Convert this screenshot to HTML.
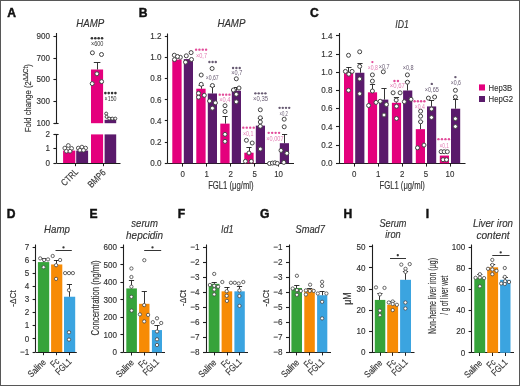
<!DOCTYPE html>
<html><head><meta charset="utf-8"><style>
html,body{margin:0;padding:0;background:#fff;}
body{width:520px;height:386px;overflow:hidden;}
svg{display:block;filter:blur(0.3px);font-family:"Liberation Sans",sans-serif;}
</style></head><body>
<svg width="520" height="386" viewBox="0 0 520 386">
<rect x="0" y="0" width="520" height="386" fill="#fff"/>
<text x="7.2" y="16.9" font-size="12.1" font-weight="bold" fill="#111" stroke="#111" stroke-width="0.45">A</text>
<text x="90.3" y="27.4" font-size="10.5" text-anchor="middle" fill="#333333" stroke="#333333" stroke-width="0.15" font-style="italic" textLength="28.0" lengthAdjust="spacingAndGlyphs">HAMP</text>
<line x1="56.5" y1="33.0" x2="56.5" y2="123.2" stroke="#1e1e1e" stroke-width="1.1"/>
<line x1="53.4" y1="36.5" x2="56.4" y2="36.5" stroke="#1e1e1e" stroke-width="1.1"/>
<text x="50.0" y="38.900000000000006" font-size="9.0" text-anchor="end" fill="#333333" stroke="#333333" stroke-width="0.15" textLength="13.51" lengthAdjust="spacingAndGlyphs">900</text>
<line x1="53.4" y1="58.5" x2="56.4" y2="58.5" stroke="#1e1e1e" stroke-width="1.1"/>
<text x="50.0" y="60.7" font-size="9.0" text-anchor="end" fill="#333333" stroke="#333333" stroke-width="0.15" textLength="13.51" lengthAdjust="spacingAndGlyphs">700</text>
<line x1="53.4" y1="79.5" x2="56.4" y2="79.5" stroke="#1e1e1e" stroke-width="1.1"/>
<text x="50.0" y="82.4" font-size="9.0" text-anchor="end" fill="#333333" stroke="#333333" stroke-width="0.15" textLength="13.51" lengthAdjust="spacingAndGlyphs">500</text>
<line x1="53.4" y1="101.5" x2="56.4" y2="101.5" stroke="#1e1e1e" stroke-width="1.1"/>
<text x="50.0" y="104.10000000000001" font-size="9.0" text-anchor="end" fill="#333333" stroke="#333333" stroke-width="0.15" textLength="13.51" lengthAdjust="spacingAndGlyphs">300</text>
<line x1="53.4" y1="123.5" x2="56.4" y2="123.5" stroke="#1e1e1e" stroke-width="1.1"/>
<text x="50.0" y="125.9" font-size="9.0" text-anchor="end" fill="#333333" stroke="#333333" stroke-width="0.15" textLength="13.51" lengthAdjust="spacingAndGlyphs">100</text>
<line x1="54" y1="123.5" x2="58.6" y2="123.5" stroke="#1e1e1e" stroke-width="1.1"/>
<line x1="56.5" y1="134.4" x2="56.5" y2="163.2" stroke="#1e1e1e" stroke-width="1.1"/>
<line x1="53.4" y1="134.5" x2="56.4" y2="134.5" stroke="#1e1e1e" stroke-width="1.1"/>
<text x="50.0" y="137.2" font-size="9.0" text-anchor="end" fill="#333333" stroke="#333333" stroke-width="0.15" textLength="4.5" lengthAdjust="spacingAndGlyphs">2</text>
<line x1="53.4" y1="148.5" x2="56.4" y2="148.5" stroke="#1e1e1e" stroke-width="1.1"/>
<text x="50.0" y="151.39999999999998" font-size="9.0" text-anchor="end" fill="#333333" stroke="#333333" stroke-width="0.15" textLength="4.5" lengthAdjust="spacingAndGlyphs">1</text>
<line x1="53.4" y1="163.5" x2="56.4" y2="163.5" stroke="#1e1e1e" stroke-width="1.1"/>
<text x="50.0" y="165.7" font-size="9.0" text-anchor="end" fill="#333333" stroke="#333333" stroke-width="0.15" textLength="4.5" lengthAdjust="spacingAndGlyphs">0</text>
<line x1="54.3" y1="134.5" x2="58.6" y2="134.5" stroke="#1e1e1e" stroke-width="1.1"/>
<rect x="63.1" y="150.6" width="12.20" height="12.40" fill="#e4007d"/>
<rect x="76.2" y="150.6" width="11.90" height="12.40" fill="#5a1a6b"/>
<rect x="91.0" y="134.4" width="12.10" height="28.60" fill="#e4007d"/>
<rect x="104.6" y="134.4" width="11.60" height="28.60" fill="#5a1a6b"/>
<rect x="91.0" y="69.5" width="12.10" height="53.70" fill="#e4007d"/>
<rect x="104.6" y="119.8" width="11.60" height="3.40" fill="#5a1a6b"/>
<line x1="97.5" y1="62.8" x2="97.5" y2="69.5" stroke="#1e1e1e" stroke-width="0.9"/>
<line x1="93.8" y1="62.5" x2="100.39999999999999" y2="62.5" stroke="#1e1e1e" stroke-width="0.9"/>
<line x1="110.5" y1="117.0" x2="110.5" y2="119.8" stroke="#1e1e1e" stroke-width="0.9"/>
<line x1="107.9" y1="117.5" x2="112.9" y2="117.5" stroke="#1e1e1e" stroke-width="0.9"/>
<circle cx="92.4" cy="52.8" r="2.0" fill="#fff" stroke="#444444" stroke-width="1.0"/>
<circle cx="101.5" cy="54.5" r="2.0" fill="#fff" stroke="#444444" stroke-width="1.0"/>
<circle cx="96.9" cy="73.8" r="2.0" fill="#fff" stroke="#444444" stroke-width="1.0"/>
<circle cx="92.2" cy="83.6" r="2.0" fill="#fff" stroke="#444444" stroke-width="1.0"/>
<circle cx="101.6" cy="81.6" r="2.0" fill="#fff" stroke="#444444" stroke-width="1.0"/>
<circle cx="106.2" cy="113.6" r="1.5" fill="#fff" stroke="#444444" stroke-width="1.0"/>
<circle cx="106.6" cy="116.8" r="1.5" fill="#fff" stroke="#444444" stroke-width="1.0"/>
<circle cx="109.2" cy="118.6" r="1.5" fill="#fff" stroke="#444444" stroke-width="1.0"/>
<circle cx="112.3" cy="118.6" r="1.5" fill="#fff" stroke="#444444" stroke-width="1.0"/>
<circle cx="115.3" cy="118.6" r="1.5" fill="#fff" stroke="#444444" stroke-width="1.0"/>
<circle cx="68.3" cy="145.5" r="1.9" fill="#fff" stroke="#444444" stroke-width="0.9"/>
<circle cx="64.8" cy="148.1" r="1.9" fill="#fff" stroke="#444444" stroke-width="0.9"/>
<circle cx="71.6" cy="148.4" r="1.9" fill="#fff" stroke="#444444" stroke-width="0.9"/>
<circle cx="66.4" cy="151.2" r="1.9" fill="#fff" stroke="#444444" stroke-width="0.9"/>
<circle cx="70.0" cy="151.2" r="1.9" fill="#fff" stroke="#444444" stroke-width="0.9"/>
<circle cx="78.3" cy="148.1" r="1.9" fill="#fff" stroke="#444444" stroke-width="0.9"/>
<circle cx="81.9" cy="147.1" r="1.9" fill="#fff" stroke="#444444" stroke-width="0.9"/>
<circle cx="85.6" cy="148.1" r="1.9" fill="#fff" stroke="#444444" stroke-width="0.9"/>
<circle cx="79.9" cy="150.2" r="1.9" fill="#fff" stroke="#444444" stroke-width="0.9"/>
<circle cx="83.5" cy="150.2" r="1.9" fill="#fff" stroke="#444444" stroke-width="0.9"/>
<line x1="56.4" y1="163.5" x2="120.5" y2="163.5" stroke="#1e1e1e" stroke-width="1.1"/>
<line x1="75.5" y1="163.2" x2="75.5" y2="166.2" stroke="#1e1e1e" stroke-width="1.0"/>
<line x1="103.5" y1="163.2" x2="103.5" y2="166.2" stroke="#1e1e1e" stroke-width="1.0"/>
<circle cx="91.94" cy="38.30" r="1.3" fill="#333333"/>
<circle cx="95.31" cy="38.30" r="1.3" fill="#333333"/>
<circle cx="98.69" cy="38.30" r="1.3" fill="#333333"/>
<circle cx="102.06" cy="38.30" r="1.3" fill="#333333"/>
<text x="97.2" y="46.3" font-size="6.4" text-anchor="middle" fill="#333333" textLength="12.6" lengthAdjust="spacingAndGlyphs">×600</text>
<circle cx="105.38" cy="93.10" r="1.3" fill="#333333"/>
<circle cx="108.72" cy="93.10" r="1.3" fill="#333333"/>
<circle cx="112.08" cy="93.10" r="1.3" fill="#333333"/>
<circle cx="115.42" cy="93.10" r="1.3" fill="#333333"/>
<text x="110.6" y="100.9" font-size="6.4" text-anchor="middle" fill="#333333" textLength="12.0" lengthAdjust="spacingAndGlyphs">×150</text>
<text x="78.8" y="172.5" font-size="9.5" text-anchor="end" fill="#333333" stroke="#333333" stroke-width="0.15" textLength="19.85" lengthAdjust="spacingAndGlyphs" transform="rotate(-45 78.8 172.5)">CTRL</text>
<text x="106.4" y="173.2" font-size="9.5" text-anchor="end" fill="#333333" stroke="#333333" stroke-width="0.15" textLength="21.21" lengthAdjust="spacingAndGlyphs" transform="rotate(-45 106.4 173.2)">BMP6</text>
<text transform="translate(30.8 98.3) rotate(-90)" font-size="9" text-anchor="middle" fill="#333" stroke="#333" stroke-width="0.15" textLength="68" lengthAdjust="spacingAndGlyphs">Fold change (2<tspan font-size="7.2" dy="-2.6">ΔΔCt</tspan><tspan dy="2.6">)</tspan></text>
<text x="138.8" y="16.8" font-size="12.1" font-weight="bold" fill="#111" stroke="#111" stroke-width="0.45">B</text>
<text x="231.4" y="27.4" font-size="10.5" text-anchor="middle" fill="#333333" stroke="#333333" stroke-width="0.15" font-style="italic" textLength="28.0" lengthAdjust="spacingAndGlyphs">HAMP</text>
<line x1="167.5" y1="33.5" x2="167.5" y2="163.3" stroke="#1e1e1e" stroke-width="1.1"/>
<line x1="164.8" y1="36.5" x2="167.8" y2="36.5" stroke="#1e1e1e" stroke-width="1.1"/>
<text x="161.4" y="39.04000000000002" font-size="9.0" text-anchor="end" fill="#333333" stroke="#333333" stroke-width="0.15" textLength="11.26" lengthAdjust="spacingAndGlyphs">1.2</text>
<line x1="164.8" y1="57.5" x2="167.8" y2="57.5" stroke="#1e1e1e" stroke-width="1.1"/>
<text x="161.4" y="60.20000000000002" font-size="9.0" text-anchor="end" fill="#333333" stroke="#333333" stroke-width="0.15" textLength="11.26" lengthAdjust="spacingAndGlyphs">1.0</text>
<line x1="164.8" y1="78.5" x2="167.8" y2="78.5" stroke="#1e1e1e" stroke-width="1.1"/>
<text x="161.4" y="81.36000000000001" font-size="9.0" text-anchor="end" fill="#333333" stroke="#333333" stroke-width="0.15" textLength="11.26" lengthAdjust="spacingAndGlyphs">0.8</text>
<line x1="164.8" y1="99.5" x2="167.8" y2="99.5" stroke="#1e1e1e" stroke-width="1.1"/>
<text x="161.4" y="102.52000000000002" font-size="9.0" text-anchor="end" fill="#333333" stroke="#333333" stroke-width="0.15" textLength="11.26" lengthAdjust="spacingAndGlyphs">0.6</text>
<line x1="164.8" y1="120.5" x2="167.8" y2="120.5" stroke="#1e1e1e" stroke-width="1.1"/>
<text x="161.4" y="123.68000000000002" font-size="9.0" text-anchor="end" fill="#333333" stroke="#333333" stroke-width="0.15" textLength="11.26" lengthAdjust="spacingAndGlyphs">0.4</text>
<line x1="164.8" y1="142.5" x2="167.8" y2="142.5" stroke="#1e1e1e" stroke-width="1.1"/>
<text x="161.4" y="144.84" font-size="9.0" text-anchor="end" fill="#333333" stroke="#333333" stroke-width="0.15" textLength="11.26" lengthAdjust="spacingAndGlyphs">0.2</text>
<line x1="164.8" y1="163.5" x2="167.8" y2="163.5" stroke="#1e1e1e" stroke-width="1.1"/>
<text x="161.4" y="166.0" font-size="9.0" text-anchor="end" fill="#333333" stroke="#333333" stroke-width="0.15" textLength="11.26" lengthAdjust="spacingAndGlyphs">0.0</text>
<line x1="167.8" y1="163.5" x2="294" y2="163.5" stroke="#1e1e1e" stroke-width="1.1"/>
<line x1="182.5" y1="163.3" x2="182.5" y2="166.6" stroke="#1e1e1e" stroke-width="1.0"/>
<text x="182.6" y="176.6" font-size="9.2" text-anchor="middle" fill="#333333" stroke="#333333" stroke-width="0.15" textLength="4.4" lengthAdjust="spacingAndGlyphs">0</text>
<rect x="172.29999999999998" y="59.616000000000014" width="9.30" height="103.68" fill="#e4007d"/>
<rect x="183.79999999999998" y="59.08700000000002" width="9.20" height="104.21" fill="#5a1a6b"/>
<line x1="206.5" y1="163.3" x2="206.5" y2="166.6" stroke="#1e1e1e" stroke-width="1.0"/>
<text x="206.6" y="176.6" font-size="9.2" text-anchor="middle" fill="#333333" stroke="#333333" stroke-width="0.15" textLength="4.4" lengthAdjust="spacingAndGlyphs">1</text>
<rect x="196.29999999999998" y="88.71100000000001" width="9.30" height="74.59" fill="#e4007d"/>
<rect x="207.79999999999998" y="93.47200000000001" width="9.20" height="69.83" fill="#5a1a6b"/>
<line x1="230.5" y1="163.3" x2="230.5" y2="166.6" stroke="#1e1e1e" stroke-width="1.0"/>
<text x="230.6" y="176.6" font-size="9.2" text-anchor="middle" fill="#333333" stroke="#333333" stroke-width="0.15" textLength="4.4" lengthAdjust="spacingAndGlyphs">2</text>
<rect x="220.29999999999998" y="123.62500000000001" width="9.30" height="39.67" fill="#e4007d"/>
<rect x="231.79999999999998" y="90.72120000000001" width="9.20" height="72.58" fill="#5a1a6b"/>
<line x1="254.5" y1="163.3" x2="254.5" y2="166.6" stroke="#1e1e1e" stroke-width="1.0"/>
<text x="254.6" y="176.6" font-size="9.2" text-anchor="middle" fill="#333333" stroke="#333333" stroke-width="0.15" textLength="4.4" lengthAdjust="spacingAndGlyphs">5</text>
<rect x="244.29999999999998" y="152.72" width="9.30" height="10.58" fill="#e4007d"/>
<rect x="255.79999999999998" y="125.63520000000001" width="9.20" height="37.66" fill="#5a1a6b"/>
<line x1="278.5" y1="163.3" x2="278.5" y2="166.6" stroke="#1e1e1e" stroke-width="1.0"/>
<text x="278.6" y="176.6" font-size="9.2" text-anchor="middle" fill="#333333" stroke="#333333" stroke-width="0.15" textLength="8.8" lengthAdjust="spacingAndGlyphs">10</text>
<rect x="268.3" y="162.8768" width="9.30" height="0.42" fill="#e4007d"/>
<rect x="279.8" y="143.198" width="9.20" height="20.10" fill="#5a1a6b"/>
<text x="230.9" y="189.4" font-size="10" text-anchor="middle" fill="#333333" stroke="#333333" stroke-width="0.15" textLength="45.5" lengthAdjust="spacingAndGlyphs">FGL1 (μg/ml)</text>
<line x1="201.5" y1="85.3" x2="201.5" y2="88.71100000000001" stroke="#1e1e1e" stroke-width="0.9"/>
<line x1="198.6" y1="85.5" x2="203.79999999999998" y2="85.5" stroke="#1e1e1e" stroke-width="0.9"/>
<line x1="212.5" y1="86.0" x2="212.5" y2="93.47200000000001" stroke="#1e1e1e" stroke-width="0.9"/>
<line x1="209.8" y1="86.5" x2="215.0" y2="86.5" stroke="#1e1e1e" stroke-width="0.9"/>
<line x1="225.5" y1="116.5" x2="225.5" y2="123.62500000000001" stroke="#1e1e1e" stroke-width="0.9"/>
<line x1="222.5" y1="116.5" x2="227.7" y2="116.5" stroke="#1e1e1e" stroke-width="0.9"/>
<line x1="236.5" y1="87.3" x2="236.5" y2="90.72120000000001" stroke="#1e1e1e" stroke-width="0.9"/>
<line x1="233.9" y1="87.5" x2="239.1" y2="87.5" stroke="#1e1e1e" stroke-width="0.9"/>
<line x1="249.5" y1="147.5" x2="249.5" y2="152.72" stroke="#1e1e1e" stroke-width="0.9"/>
<line x1="246.4" y1="147.5" x2="251.6" y2="147.5" stroke="#1e1e1e" stroke-width="0.9"/>
<line x1="260.5" y1="118.5" x2="260.5" y2="125.63520000000001" stroke="#1e1e1e" stroke-width="0.9"/>
<line x1="257.79999999999995" y1="118.5" x2="263.0" y2="118.5" stroke="#1e1e1e" stroke-width="0.9"/>
<line x1="284.5" y1="134.1" x2="284.5" y2="143.198" stroke="#1e1e1e" stroke-width="0.9"/>
<line x1="282.0" y1="134.5" x2="287.20000000000005" y2="134.5" stroke="#1e1e1e" stroke-width="0.9"/>
<circle cx="174.3" cy="55.2" r="2.0" fill="#fff" stroke="#444444" stroke-width="1.0"/>
<circle cx="180.3" cy="57.3" r="2.0" fill="#fff" stroke="#444444" stroke-width="1.0"/>
<circle cx="174.5" cy="59.6" r="2.0" fill="#fff" stroke="#444444" stroke-width="1.0"/>
<circle cx="186.3" cy="55.8" r="2.0" fill="#fff" stroke="#444444" stroke-width="1.0"/>
<circle cx="191.1" cy="52.6" r="2.0" fill="#fff" stroke="#444444" stroke-width="1.0"/>
<circle cx="185.5" cy="62.2" r="2.0" fill="#fff" stroke="#444444" stroke-width="1.0"/>
<circle cx="191.5" cy="59.5" r="2.0" fill="#fff" stroke="#444444" stroke-width="1.0"/>
<circle cx="177.5" cy="56.5" r="2.0" fill="#fff" stroke="#444444" stroke-width="1.0"/>
<circle cx="201.2" cy="75.0" r="2.0" fill="#fff" stroke="#444444" stroke-width="1.0"/>
<circle cx="201.2" cy="84.3" r="2.0" fill="#fff" stroke="#444444" stroke-width="1.0"/>
<circle cx="198.5" cy="93.3" r="2.0" fill="#fff" stroke="#444444" stroke-width="1.0"/>
<circle cx="198.5" cy="97.2" r="2.0" fill="#fff" stroke="#444444" stroke-width="1.0"/>
<circle cx="204.3" cy="95.3" r="2.0" fill="#fff" stroke="#444444" stroke-width="1.0"/>
<circle cx="212.1" cy="68.5" r="2.0" fill="#fff" stroke="#444444" stroke-width="1.0"/>
<circle cx="212.4" cy="85.5" r="2.0" fill="#fff" stroke="#444444" stroke-width="1.0"/>
<circle cx="209.6" cy="101.0" r="2.0" fill="#fff" stroke="#444444" stroke-width="1.0"/>
<circle cx="215.4" cy="102.8" r="2.0" fill="#fff" stroke="#444444" stroke-width="1.0"/>
<circle cx="212.4" cy="108.2" r="2.0" fill="#fff" stroke="#444444" stroke-width="1.0"/>
<circle cx="225.0" cy="105.7" r="2.0" fill="#fff" stroke="#444444" stroke-width="1.0"/>
<circle cx="225.0" cy="111.5" r="2.0" fill="#fff" stroke="#444444" stroke-width="1.0"/>
<circle cx="225.0" cy="134.3" r="2.0" fill="#fff" stroke="#444444" stroke-width="1.0"/>
<circle cx="225.0" cy="141.4" r="2.0" fill="#fff" stroke="#444444" stroke-width="1.0"/>
<circle cx="236.3" cy="78.8" r="2.0" fill="#fff" stroke="#444444" stroke-width="1.0"/>
<circle cx="233.4" cy="90.0" r="2.0" fill="#fff" stroke="#444444" stroke-width="1.0"/>
<circle cx="239.0" cy="88.0" r="2.0" fill="#fff" stroke="#444444" stroke-width="1.0"/>
<circle cx="236.3" cy="94.3" r="2.0" fill="#fff" stroke="#444444" stroke-width="1.0"/>
<circle cx="236.3" cy="101.8" r="2.0" fill="#fff" stroke="#444444" stroke-width="1.0"/>
<circle cx="246.4" cy="140.3" r="2.0" fill="#fff" stroke="#444444" stroke-width="1.0"/>
<circle cx="252.2" cy="143.0" r="2.0" fill="#fff" stroke="#444444" stroke-width="1.0"/>
<circle cx="249.0" cy="153.0" r="2.0" fill="#fff" stroke="#444444" stroke-width="1.0"/>
<circle cx="245.4" cy="161.3" r="2.0" fill="#fff" stroke="#444444" stroke-width="1.0"/>
<circle cx="251.3" cy="161.3" r="2.0" fill="#fff" stroke="#444444" stroke-width="1.0"/>
<circle cx="260.3" cy="109.8" r="2.0" fill="#fff" stroke="#444444" stroke-width="1.0"/>
<circle cx="260.3" cy="117.8" r="2.0" fill="#fff" stroke="#444444" stroke-width="1.0"/>
<circle cx="260.3" cy="122.0" r="2.0" fill="#fff" stroke="#444444" stroke-width="1.0"/>
<circle cx="260.3" cy="126.3" r="2.0" fill="#fff" stroke="#444444" stroke-width="1.0"/>
<circle cx="260.3" cy="149.0" r="2.0" fill="#fff" stroke="#444444" stroke-width="1.0"/>
<circle cx="269.5" cy="163.5" r="2.0" fill="#fff" stroke="#444444" stroke-width="1.0"/>
<circle cx="272.4" cy="163.1" r="2.0" fill="#fff" stroke="#444444" stroke-width="1.0"/>
<circle cx="275.0" cy="162.8" r="2.0" fill="#fff" stroke="#444444" stroke-width="1.0"/>
<circle cx="277.3" cy="163.4" r="2.0" fill="#fff" stroke="#444444" stroke-width="1.0"/>
<circle cx="284.2" cy="119.2" r="2.0" fill="#fff" stroke="#444444" stroke-width="1.0"/>
<circle cx="284.2" cy="126.8" r="2.0" fill="#fff" stroke="#444444" stroke-width="1.0"/>
<circle cx="281.0" cy="150.4" r="2.0" fill="#fff" stroke="#444444" stroke-width="1.0"/>
<circle cx="286.9" cy="153.3" r="2.0" fill="#fff" stroke="#444444" stroke-width="1.0"/>
<circle cx="283.8" cy="162.4" r="2.0" fill="#fff" stroke="#444444" stroke-width="1.0"/>
<circle cx="196.11" cy="49.66" r="1.2" fill="#e24c9a"/>
<circle cx="199.44" cy="49.66" r="1.2" fill="#e24c9a"/>
<circle cx="202.76" cy="49.66" r="1.2" fill="#e24c9a"/>
<circle cx="206.09" cy="49.66" r="1.2" fill="#e24c9a"/>
<text x="201.5" y="58.0" font-size="6.5" text-anchor="middle" fill="#e27ab2" textLength="11" lengthAdjust="spacingAndGlyphs">×0,7</text>
<circle cx="209.43" cy="62.06" r="1.2" fill="#675a72"/>
<circle cx="212.60" cy="62.06" r="1.2" fill="#675a72"/>
<circle cx="215.77" cy="62.06" r="1.2" fill="#675a72"/>
<text x="212.2" y="80.2" font-size="6.5" text-anchor="middle" fill="#675a72" textLength="13" lengthAdjust="spacingAndGlyphs">×0,67</text>
<circle cx="219.72" cy="94.66" r="1.2" fill="#e24c9a"/>
<circle cx="222.97" cy="94.66" r="1.2" fill="#e24c9a"/>
<circle cx="226.22" cy="94.66" r="1.2" fill="#e24c9a"/>
<circle cx="229.47" cy="94.66" r="1.2" fill="#e24c9a"/>
<text x="224.8" y="102.2" font-size="6.5" text-anchor="middle" fill="#e27ab2" textLength="11.3" lengthAdjust="spacingAndGlyphs">×0,4</text>
<circle cx="233.07" cy="67.96" r="1.2" fill="#675a72"/>
<circle cx="236.40" cy="67.96" r="1.2" fill="#675a72"/>
<circle cx="239.73" cy="67.96" r="1.2" fill="#675a72"/>
<text x="236.8" y="75.4" font-size="6.5" text-anchor="middle" fill="#675a72" textLength="11" lengthAdjust="spacingAndGlyphs">×0,7</text>
<circle cx="243.29" cy="127.66" r="1.2" fill="#e24c9a"/>
<circle cx="246.76" cy="127.66" r="1.2" fill="#e24c9a"/>
<circle cx="250.24" cy="127.66" r="1.2" fill="#e24c9a"/>
<circle cx="253.71" cy="127.66" r="1.2" fill="#e24c9a"/>
<text x="248.2" y="136.0" font-size="6.5" text-anchor="middle" fill="#e27ab2" textLength="10.5" lengthAdjust="spacingAndGlyphs">×0,1</text>
<circle cx="255.38" cy="93.36" r="1.2" fill="#675a72"/>
<circle cx="258.73" cy="93.36" r="1.2" fill="#675a72"/>
<circle cx="262.07" cy="93.36" r="1.2" fill="#675a72"/>
<circle cx="265.43" cy="93.36" r="1.2" fill="#675a72"/>
<text x="260.5" y="101.4" font-size="6.5" text-anchor="middle" fill="#675a72" textLength="15" lengthAdjust="spacingAndGlyphs">×0,35</text>
<circle cx="268.69" cy="132.86" r="1.2" fill="#e24c9a"/>
<circle cx="272.16" cy="132.86" r="1.2" fill="#e24c9a"/>
<circle cx="275.64" cy="132.86" r="1.2" fill="#e24c9a"/>
<circle cx="279.11" cy="132.86" r="1.2" fill="#e24c9a"/>
<text x="274.9" y="141.1" font-size="6.5" text-anchor="middle" fill="#e27ab2" textLength="17.2" lengthAdjust="spacingAndGlyphs">×0,007</text>
<circle cx="279.60" cy="107.86" r="1.2" fill="#675a72"/>
<circle cx="282.80" cy="107.86" r="1.2" fill="#675a72"/>
<circle cx="286.00" cy="107.86" r="1.2" fill="#675a72"/>
<circle cx="289.20" cy="107.86" r="1.2" fill="#675a72"/>
<text x="283.8" y="116.0" font-size="6.5" text-anchor="middle" fill="#675a72" textLength="8.4" lengthAdjust="spacingAndGlyphs">×0,2</text>
<text x="310.0" y="16.9" font-size="12.1" font-weight="bold" fill="#111" stroke="#111" stroke-width="0.45">C</text>
<text x="402.0" y="27.6" font-size="10.5" text-anchor="middle" fill="#333333" stroke="#333333" stroke-width="0.15" font-style="italic" textLength="13.5" lengthAdjust="spacingAndGlyphs">ID1</text>
<line x1="339.5" y1="33.0" x2="339.5" y2="163.3" stroke="#1e1e1e" stroke-width="1.1"/>
<line x1="336.0" y1="35.5" x2="339.0" y2="35.5" stroke="#1e1e1e" stroke-width="1.1"/>
<text x="332.6" y="38.60000000000002" font-size="9.0" text-anchor="end" fill="#333333" stroke="#333333" stroke-width="0.15" textLength="11.26" lengthAdjust="spacingAndGlyphs">1.4</text>
<line x1="336.0" y1="54.5" x2="339.0" y2="54.5" stroke="#1e1e1e" stroke-width="1.1"/>
<text x="332.6" y="56.80000000000001" font-size="9.0" text-anchor="end" fill="#333333" stroke="#333333" stroke-width="0.15" textLength="11.26" lengthAdjust="spacingAndGlyphs">1.2</text>
<line x1="336.0" y1="72.5" x2="339.0" y2="72.5" stroke="#1e1e1e" stroke-width="1.1"/>
<text x="332.6" y="75.00000000000001" font-size="9.0" text-anchor="end" fill="#333333" stroke="#333333" stroke-width="0.15" textLength="11.26" lengthAdjust="spacingAndGlyphs">1.0</text>
<line x1="336.0" y1="90.5" x2="339.0" y2="90.5" stroke="#1e1e1e" stroke-width="1.1"/>
<text x="332.6" y="93.20000000000002" font-size="9.0" text-anchor="end" fill="#333333" stroke="#333333" stroke-width="0.15" textLength="11.26" lengthAdjust="spacingAndGlyphs">0.8</text>
<line x1="336.0" y1="108.5" x2="339.0" y2="108.5" stroke="#1e1e1e" stroke-width="1.1"/>
<text x="332.6" y="111.40000000000002" font-size="9.0" text-anchor="end" fill="#333333" stroke="#333333" stroke-width="0.15" textLength="11.26" lengthAdjust="spacingAndGlyphs">0.6</text>
<line x1="336.0" y1="126.5" x2="339.0" y2="126.5" stroke="#1e1e1e" stroke-width="1.1"/>
<text x="332.6" y="129.6" font-size="9.0" text-anchor="end" fill="#333333" stroke="#333333" stroke-width="0.15" textLength="11.26" lengthAdjust="spacingAndGlyphs">0.4</text>
<line x1="336.0" y1="145.5" x2="339.0" y2="145.5" stroke="#1e1e1e" stroke-width="1.1"/>
<text x="332.6" y="147.8" font-size="9.0" text-anchor="end" fill="#333333" stroke="#333333" stroke-width="0.15" textLength="11.26" lengthAdjust="spacingAndGlyphs">0.2</text>
<line x1="336.0" y1="163.5" x2="339.0" y2="163.5" stroke="#1e1e1e" stroke-width="1.1"/>
<text x="332.6" y="166.0" font-size="9.0" text-anchor="end" fill="#333333" stroke="#333333" stroke-width="0.15" textLength="11.26" lengthAdjust="spacingAndGlyphs">0.0</text>
<line x1="339.0" y1="163.5" x2="465.5" y2="163.5" stroke="#1e1e1e" stroke-width="1.1"/>
<line x1="354.5" y1="163.3" x2="354.5" y2="166.6" stroke="#1e1e1e" stroke-width="1.0"/>
<text x="354.2" y="176.6" font-size="9.2" text-anchor="middle" fill="#333333" stroke="#333333" stroke-width="0.15" textLength="4.4" lengthAdjust="spacingAndGlyphs">0</text>
<rect x="344.0" y="72.30000000000001" width="9.20" height="91.00" fill="#e4007d"/>
<rect x="355.2" y="72.75500000000001" width="9.20" height="90.55" fill="#5a1a6b"/>
<line x1="378.5" y1="163.3" x2="378.5" y2="166.6" stroke="#1e1e1e" stroke-width="1.0"/>
<text x="378.1" y="176.6" font-size="9.2" text-anchor="middle" fill="#333333" stroke="#333333" stroke-width="0.15" textLength="4.4" lengthAdjust="spacingAndGlyphs">1</text>
<rect x="367.90000000000003" y="92.32000000000001" width="9.20" height="70.98" fill="#e4007d"/>
<rect x="379.1" y="99.60000000000002" width="9.20" height="63.70" fill="#5a1a6b"/>
<line x1="402.5" y1="163.3" x2="402.5" y2="166.6" stroke="#1e1e1e" stroke-width="1.0"/>
<text x="402.1" y="176.6" font-size="9.2" text-anchor="middle" fill="#333333" stroke="#333333" stroke-width="0.15" textLength="4.4" lengthAdjust="spacingAndGlyphs">2</text>
<rect x="391.90000000000003" y="102.78500000000001" width="9.20" height="60.52" fill="#e4007d"/>
<rect x="403.1" y="90.50000000000001" width="9.20" height="72.80" fill="#5a1a6b"/>
<line x1="426.5" y1="163.3" x2="426.5" y2="166.6" stroke="#1e1e1e" stroke-width="1.0"/>
<text x="426.0" y="176.6" font-size="9.2" text-anchor="middle" fill="#333333" stroke="#333333" stroke-width="0.15" textLength="4.4" lengthAdjust="spacingAndGlyphs">5</text>
<rect x="415.8" y="129.175" width="9.20" height="34.12" fill="#e4007d"/>
<rect x="427.0" y="106.42500000000001" width="9.20" height="56.88" fill="#5a1a6b"/>
<line x1="450.5" y1="163.3" x2="450.5" y2="166.6" stroke="#1e1e1e" stroke-width="1.0"/>
<text x="450.0" y="176.6" font-size="9.2" text-anchor="middle" fill="#333333" stroke="#333333" stroke-width="0.15" textLength="8.8" lengthAdjust="spacingAndGlyphs">10</text>
<rect x="439.8" y="155.565" width="9.20" height="7.74" fill="#e4007d"/>
<rect x="451.0" y="108.70000000000002" width="9.20" height="54.60" fill="#5a1a6b"/>
<text x="402.2" y="189.4" font-size="10" text-anchor="middle" fill="#333333" stroke="#333333" stroke-width="0.15" textLength="45.5" lengthAdjust="spacingAndGlyphs">FGL1 (μg/ml)</text>
<line x1="348.5" y1="67.4" x2="348.5" y2="72.30000000000001" stroke="#1e1e1e" stroke-width="0.9"/>
<line x1="346.29999999999995" y1="67.5" x2="351.5" y2="67.5" stroke="#1e1e1e" stroke-width="0.9"/>
<line x1="360.5" y1="63.9" x2="360.5" y2="72.75500000000001" stroke="#1e1e1e" stroke-width="0.9"/>
<line x1="357.4" y1="63.5" x2="362.6" y2="63.5" stroke="#1e1e1e" stroke-width="0.9"/>
<line x1="372.5" y1="84.9" x2="372.5" y2="92.32000000000001" stroke="#1e1e1e" stroke-width="0.9"/>
<line x1="369.9" y1="84.5" x2="375.1" y2="84.5" stroke="#1e1e1e" stroke-width="0.9"/>
<line x1="384.5" y1="88.9" x2="384.5" y2="99.60000000000002" stroke="#1e1e1e" stroke-width="0.9"/>
<line x1="381.4" y1="88.5" x2="386.6" y2="88.5" stroke="#1e1e1e" stroke-width="0.9"/>
<line x1="396.5" y1="97.8" x2="396.5" y2="102.78500000000001" stroke="#1e1e1e" stroke-width="0.9"/>
<line x1="393.9" y1="97.5" x2="399.1" y2="97.5" stroke="#1e1e1e" stroke-width="0.9"/>
<line x1="407.5" y1="81.4" x2="407.5" y2="90.50000000000001" stroke="#1e1e1e" stroke-width="0.9"/>
<line x1="404.9" y1="81.5" x2="410.1" y2="81.5" stroke="#1e1e1e" stroke-width="0.9"/>
<line x1="420.5" y1="121.8" x2="420.5" y2="129.175" stroke="#1e1e1e" stroke-width="0.9"/>
<line x1="418.0" y1="121.5" x2="423.20000000000005" y2="121.5" stroke="#1e1e1e" stroke-width="0.9"/>
<line x1="431.5" y1="100.7" x2="431.5" y2="106.42500000000001" stroke="#1e1e1e" stroke-width="0.9"/>
<line x1="428.9" y1="100.5" x2="434.1" y2="100.5" stroke="#1e1e1e" stroke-width="0.9"/>
<line x1="455.5" y1="99.7" x2="455.5" y2="108.70000000000002" stroke="#1e1e1e" stroke-width="0.9"/>
<line x1="453.0" y1="99.5" x2="458.20000000000005" y2="99.5" stroke="#1e1e1e" stroke-width="0.9"/>
<circle cx="348.5" cy="55.3" r="2.0" fill="#fff" stroke="#444444" stroke-width="1.0"/>
<circle cx="345.4" cy="71.4" r="2.0" fill="#fff" stroke="#444444" stroke-width="1.0"/>
<circle cx="348.8" cy="74.2" r="2.0" fill="#fff" stroke="#444444" stroke-width="1.0"/>
<circle cx="352.1" cy="71.4" r="2.0" fill="#fff" stroke="#444444" stroke-width="1.0"/>
<circle cx="348.5" cy="90.3" r="2.0" fill="#fff" stroke="#444444" stroke-width="1.0"/>
<circle cx="359.7" cy="51.8" r="2.0" fill="#fff" stroke="#444444" stroke-width="1.0"/>
<circle cx="359.7" cy="66.4" r="2.0" fill="#fff" stroke="#444444" stroke-width="1.0"/>
<circle cx="359.7" cy="78.9" r="2.0" fill="#fff" stroke="#444444" stroke-width="1.0"/>
<circle cx="359.7" cy="93.7" r="2.0" fill="#fff" stroke="#444444" stroke-width="1.0"/>
<circle cx="372.4" cy="74.9" r="2.0" fill="#fff" stroke="#444444" stroke-width="1.0"/>
<circle cx="372.4" cy="81.1" r="2.0" fill="#fff" stroke="#444444" stroke-width="1.0"/>
<circle cx="372.4" cy="91.0" r="2.0" fill="#fff" stroke="#444444" stroke-width="1.0"/>
<circle cx="368.6" cy="105.5" r="2.0" fill="#fff" stroke="#444444" stroke-width="1.0"/>
<circle cx="376.0" cy="102.4" r="2.0" fill="#fff" stroke="#444444" stroke-width="1.0"/>
<circle cx="383.3" cy="71.8" r="2.0" fill="#fff" stroke="#444444" stroke-width="1.0"/>
<circle cx="380.2" cy="101.3" r="2.0" fill="#fff" stroke="#444444" stroke-width="1.0"/>
<circle cx="386.4" cy="104.5" r="2.0" fill="#fff" stroke="#444444" stroke-width="1.0"/>
<circle cx="384.0" cy="115.0" r="2.0" fill="#fff" stroke="#444444" stroke-width="1.0"/>
<circle cx="393.1" cy="92.8" r="2.0" fill="#fff" stroke="#444444" stroke-width="1.0"/>
<circle cx="400.1" cy="92.8" r="2.0" fill="#fff" stroke="#444444" stroke-width="1.0"/>
<circle cx="396.2" cy="100.1" r="2.0" fill="#fff" stroke="#444444" stroke-width="1.0"/>
<circle cx="396.5" cy="106.3" r="2.0" fill="#fff" stroke="#444444" stroke-width="1.0"/>
<circle cx="396.5" cy="118.5" r="2.0" fill="#fff" stroke="#444444" stroke-width="1.0"/>
<circle cx="407.4" cy="74.9" r="2.0" fill="#fff" stroke="#444444" stroke-width="1.0"/>
<circle cx="407.4" cy="82.2" r="2.0" fill="#fff" stroke="#444444" stroke-width="1.0"/>
<circle cx="404.3" cy="101.7" r="2.0" fill="#fff" stroke="#444444" stroke-width="1.0"/>
<circle cx="411.0" cy="99.3" r="2.0" fill="#fff" stroke="#444444" stroke-width="1.0"/>
<circle cx="420.6" cy="111.2" r="2.0" fill="#fff" stroke="#444444" stroke-width="1.0"/>
<circle cx="420.6" cy="116.2" r="2.0" fill="#fff" stroke="#444444" stroke-width="1.0"/>
<circle cx="420.6" cy="121.8" r="2.0" fill="#fff" stroke="#444444" stroke-width="1.0"/>
<circle cx="417.5" cy="147.8" r="2.0" fill="#fff" stroke="#444444" stroke-width="1.0"/>
<circle cx="424.0" cy="145.1" r="2.0" fill="#fff" stroke="#444444" stroke-width="1.0"/>
<circle cx="428.4" cy="98.1" r="2.0" fill="#fff" stroke="#444444" stroke-width="1.0"/>
<circle cx="434.6" cy="97.0" r="2.0" fill="#fff" stroke="#444444" stroke-width="1.0"/>
<circle cx="431.5" cy="109.0" r="2.0" fill="#fff" stroke="#444444" stroke-width="1.0"/>
<circle cx="431.5" cy="117.5" r="2.0" fill="#fff" stroke="#444444" stroke-width="1.0"/>
<circle cx="441.1" cy="151.7" r="2.0" fill="#fff" stroke="#444444" stroke-width="1.0"/>
<circle cx="444.2" cy="151.7" r="2.0" fill="#fff" stroke="#444444" stroke-width="1.0"/>
<circle cx="447.3" cy="151.7" r="2.0" fill="#fff" stroke="#444444" stroke-width="1.0"/>
<circle cx="443.0" cy="159.7" r="2.0" fill="#fff" stroke="#444444" stroke-width="1.0"/>
<circle cx="446.5" cy="159.7" r="2.0" fill="#fff" stroke="#444444" stroke-width="1.0"/>
<circle cx="455.4" cy="90.3" r="2.0" fill="#fff" stroke="#444444" stroke-width="1.0"/>
<circle cx="455.4" cy="97.0" r="2.0" fill="#fff" stroke="#444444" stroke-width="1.0"/>
<circle cx="455.4" cy="118.7" r="2.0" fill="#fff" stroke="#444444" stroke-width="1.0"/>
<circle cx="455.4" cy="126.5" r="2.0" fill="#fff" stroke="#444444" stroke-width="1.0"/>
<circle cx="372.40" cy="62.11" r="1.15" fill="#e24c9a"/>
<text x="372.8" y="69.9" font-size="6.5" text-anchor="middle" fill="#e27ab2" textLength="10.1" lengthAdjust="spacingAndGlyphs">×0,8</text>
<text x="384.1" y="68.7" font-size="6.5" text-anchor="middle" fill="#675a72" textLength="10.8" lengthAdjust="spacingAndGlyphs">×0,7</text>
<circle cx="394.45" cy="81.06" r="1.2" fill="#e24c9a"/>
<circle cx="397.95" cy="81.06" r="1.2" fill="#e24c9a"/>
<text x="397.3" y="88.2" font-size="6.5" text-anchor="middle" fill="#e27ab2" textLength="15" lengthAdjust="spacingAndGlyphs">×0,67</text>
<text x="408.2" y="70.2" font-size="6.5" text-anchor="middle" fill="#675a72" textLength="10.9" lengthAdjust="spacingAndGlyphs">×0,8</text>
<circle cx="414.62" cy="101.26" r="1.2" fill="#e24c9a"/>
<circle cx="417.88" cy="101.26" r="1.2" fill="#e24c9a"/>
<circle cx="421.12" cy="101.26" r="1.2" fill="#e24c9a"/>
<circle cx="424.38" cy="101.26" r="1.2" fill="#e24c9a"/>
<text x="419.7" y="109.1" font-size="6.5" text-anchor="middle" fill="#e27ab2" textLength="10.1" lengthAdjust="spacingAndGlyphs">×0,4</text>
<circle cx="431.80" cy="83.90" r="1.2" fill="#675a72"/>
<text x="431.8" y="91.5" font-size="6.5" text-anchor="middle" fill="#675a72" textLength="14" lengthAdjust="spacingAndGlyphs">×0,65</text>
<circle cx="438.45" cy="139.16" r="1.2" fill="#e24c9a"/>
<circle cx="441.95" cy="139.16" r="1.2" fill="#e24c9a"/>
<circle cx="445.45" cy="139.16" r="1.2" fill="#e24c9a"/>
<circle cx="448.95" cy="139.16" r="1.2" fill="#e24c9a"/>
<text x="444.2" y="147.7" font-size="6.5" text-anchor="middle" fill="#e27ab2" textLength="9.4" lengthAdjust="spacingAndGlyphs">×0,1</text>
<circle cx="455.40" cy="77.10" r="1.2" fill="#675a72"/>
<text x="455.8" y="85.0" font-size="6.5" text-anchor="middle" fill="#675a72" textLength="10.3" lengthAdjust="spacingAndGlyphs">×0,6</text>
<rect x="479" y="84.4" width="6.00" height="6.10" fill="#e4007d"/>
<rect x="479" y="96.0" width="6.00" height="6.00" fill="#5a1a6b"/>
<text x="488.6" y="90.6" font-size="9.2" text-anchor="start" fill="#333333" stroke="#333333" stroke-width="0.15" textLength="23.5" lengthAdjust="spacingAndGlyphs">Hep3B</text>
<text x="488.6" y="102.2" font-size="9.2" text-anchor="start" fill="#333333" stroke="#333333" stroke-width="0.15" textLength="24.6" lengthAdjust="spacingAndGlyphs">HepG2</text>
<text x="6.8" y="218.2" font-size="12.1" font-weight="bold" fill="#111" stroke="#111" stroke-width="0.45">D</text>
<text x="57.0" y="232.8" font-size="10.5" text-anchor="middle" fill="#333333" stroke="#333333" stroke-width="0.15" font-style="italic" textLength="25.8" lengthAdjust="spacingAndGlyphs">Hamp</text>
<line x1="35.5" y1="244.5" x2="35.5" y2="352.0" stroke="#1e1e1e" stroke-width="1.1"/>
<line x1="32.6" y1="247.5" x2="35.6" y2="247.5" stroke="#1e1e1e" stroke-width="1.1"/>
<text x="29.200000000000003" y="249.7" font-size="9.0" text-anchor="end" fill="#333333" stroke="#333333" stroke-width="0.15" textLength="4.5" lengthAdjust="spacingAndGlyphs">7</text>
<line x1="32.6" y1="260.5" x2="35.6" y2="260.5" stroke="#1e1e1e" stroke-width="1.1"/>
<text x="29.200000000000003" y="262.825" font-size="9.0" text-anchor="end" fill="#333333" stroke="#333333" stroke-width="0.15" textLength="4.5" lengthAdjust="spacingAndGlyphs">6</text>
<line x1="32.6" y1="273.5" x2="35.6" y2="273.5" stroke="#1e1e1e" stroke-width="1.1"/>
<text x="29.200000000000003" y="275.95" font-size="9.0" text-anchor="end" fill="#333333" stroke="#333333" stroke-width="0.15" textLength="4.5" lengthAdjust="spacingAndGlyphs">5</text>
<line x1="32.6" y1="286.5" x2="35.6" y2="286.5" stroke="#1e1e1e" stroke-width="1.1"/>
<text x="29.200000000000003" y="289.075" font-size="9.0" text-anchor="end" fill="#333333" stroke="#333333" stroke-width="0.15" textLength="4.5" lengthAdjust="spacingAndGlyphs">4</text>
<line x1="32.6" y1="299.5" x2="35.6" y2="299.5" stroke="#1e1e1e" stroke-width="1.1"/>
<text x="29.200000000000003" y="302.2" font-size="9.0" text-anchor="end" fill="#333333" stroke="#333333" stroke-width="0.15" textLength="4.5" lengthAdjust="spacingAndGlyphs">3</text>
<line x1="32.6" y1="312.5" x2="35.6" y2="312.5" stroke="#1e1e1e" stroke-width="1.1"/>
<text x="29.200000000000003" y="315.325" font-size="9.0" text-anchor="end" fill="#333333" stroke="#333333" stroke-width="0.15" textLength="4.5" lengthAdjust="spacingAndGlyphs">2</text>
<line x1="32.6" y1="325.5" x2="35.6" y2="325.5" stroke="#1e1e1e" stroke-width="1.1"/>
<text x="29.200000000000003" y="328.45" font-size="9.0" text-anchor="end" fill="#333333" stroke="#333333" stroke-width="0.15" textLength="4.5" lengthAdjust="spacingAndGlyphs">1</text>
<line x1="32.6" y1="338.5" x2="35.6" y2="338.5" stroke="#1e1e1e" stroke-width="1.1"/>
<text x="29.200000000000003" y="341.575" font-size="9.0" text-anchor="end" fill="#333333" stroke="#333333" stroke-width="0.15" textLength="4.5" lengthAdjust="spacingAndGlyphs">0</text>
<line x1="32.6" y1="352.5" x2="35.6" y2="352.5" stroke="#1e1e1e" stroke-width="1.1"/>
<text x="29.200000000000003" y="354.7" font-size="9.0" text-anchor="end" fill="#333333" stroke="#333333" stroke-width="0.15" textLength="9.24" lengthAdjust="spacingAndGlyphs">−1</text>
<line x1="35.6" y1="352.5" x2="76.8" y2="352.5" stroke="#1e1e1e" stroke-width="1.1"/>
<rect x="37.9" y="262.09375" width="11.30" height="89.91" fill="#36a33a"/>
<rect x="51.1" y="264.45625" width="11.20" height="87.54" fill="#f78b05"/>
<rect x="64.0" y="296.74375" width="11.20" height="55.26" fill="#3ba4e0"/>
<line x1="43.5" y1="258.8" x2="43.5" y2="262.09375" stroke="#1e1e1e" stroke-width="0.9"/>
<line x1="41.0" y1="258.5" x2="46.2" y2="258.5" stroke="#1e1e1e" stroke-width="0.9"/>
<line x1="56.5" y1="260.2" x2="56.5" y2="264.45625" stroke="#1e1e1e" stroke-width="0.9"/>
<line x1="53.9" y1="260.5" x2="59.1" y2="260.5" stroke="#1e1e1e" stroke-width="0.9"/>
<line x1="69.5" y1="284.6" x2="69.5" y2="296.74375" stroke="#1e1e1e" stroke-width="0.9"/>
<line x1="66.80000000000001" y1="284.5" x2="72.0" y2="284.5" stroke="#1e1e1e" stroke-width="0.9"/>
<line x1="43.5" y1="352" x2="43.5" y2="355.2" stroke="#1e1e1e" stroke-width="1.0"/>
<line x1="56.5" y1="352" x2="56.5" y2="355.2" stroke="#1e1e1e" stroke-width="1.0"/>
<line x1="69.5" y1="352" x2="69.5" y2="355.2" stroke="#1e1e1e" stroke-width="1.0"/>
<circle cx="40.2" cy="258.4" r="1.65" fill="#fff" stroke="#444444" stroke-width="0.8"/>
<circle cx="44.1" cy="260.0" r="1.65" fill="#fff" stroke="#444444" stroke-width="0.8"/>
<circle cx="48.0" cy="259.4" r="1.65" fill="#fff" stroke="#444444" stroke-width="0.8"/>
<circle cx="43.6" cy="267.2" r="1.65" fill="#fff" stroke="#444444" stroke-width="0.8"/>
<circle cx="52.7" cy="256.0" r="1.65" fill="#fff" stroke="#444444" stroke-width="0.8"/>
<circle cx="60.1" cy="260.0" r="1.65" fill="#fff" stroke="#444444" stroke-width="0.8"/>
<circle cx="56.1" cy="265.2" r="1.65" fill="#fff" stroke="#444444" stroke-width="0.8"/>
<circle cx="56.1" cy="278.9" r="1.65" fill="#fff" stroke="#444444" stroke-width="0.8"/>
<circle cx="65.1" cy="273.1" r="1.65" fill="#fff" stroke="#444444" stroke-width="0.8"/>
<circle cx="69.0" cy="273.1" r="1.65" fill="#fff" stroke="#444444" stroke-width="0.8"/>
<circle cx="72.9" cy="273.1" r="1.65" fill="#fff" stroke="#444444" stroke-width="0.8"/>
<circle cx="69.0" cy="290.2" r="1.65" fill="#fff" stroke="#444444" stroke-width="0.8"/>
<circle cx="69.0" cy="332.3" r="1.65" fill="#fff" stroke="#444444" stroke-width="0.8"/>
<circle cx="69.0" cy="339.6" r="1.65" fill="#fff" stroke="#444444" stroke-width="0.8"/>
<line x1="55.5" y1="250.5" x2="71.8" y2="250.5" stroke="#1e1e1e" stroke-width="0.9"/>
<circle cx="63.50" cy="247.47" r="1.15" fill="#333333"/>
<text x="46.4" y="363.0" font-size="9.4" text-anchor="end" fill="#333333" stroke="#333333" stroke-width="0.15" textLength="20.9" lengthAdjust="spacingAndGlyphs" transform="rotate(-45 46.4 363.0)">Saline</text>
<text x="60.0" y="362.2" font-size="9.4" text-anchor="end" fill="#333333" stroke="#333333" stroke-width="0.15" textLength="8.35" lengthAdjust="spacingAndGlyphs" transform="rotate(-45 60.0 362.2)">Fc</text>
<text x="72.2" y="362.3" font-size="9.4" text-anchor="end" fill="#333333" stroke="#333333" stroke-width="0.15" textLength="18.81" lengthAdjust="spacingAndGlyphs" transform="rotate(-45 72.2 362.3)">FGL1</text>
<text transform="translate(15.6 298.5) rotate(-90)" font-size="9.8" text-anchor="middle" fill="#333" stroke="#333" stroke-width="0.15" textLength="16.5" lengthAdjust="spacingAndGlyphs">-ΔCt</text>
<text x="89.5" y="218.2" font-size="12.1" font-weight="bold" fill="#111" stroke="#111" stroke-width="0.45">E</text>
<text x="144.6" y="227.2" font-size="10.5" text-anchor="middle" fill="#333333" stroke="#333333" stroke-width="0.15" font-style="italic" textLength="26.5" lengthAdjust="spacingAndGlyphs">serum</text>
<text x="144.6" y="238.6" font-size="10.5" text-anchor="middle" fill="#333333" stroke="#333333" stroke-width="0.15" font-style="italic" textLength="37.0" lengthAdjust="spacingAndGlyphs">hepcidin</text>
<line x1="123.5" y1="244.5" x2="123.5" y2="352.3" stroke="#1e1e1e" stroke-width="1.1"/>
<line x1="120.4" y1="247.5" x2="123.4" y2="247.5" stroke="#1e1e1e" stroke-width="1.1"/>
<text x="117.0" y="250.0" font-size="9.0" text-anchor="end" fill="#333333" stroke="#333333" stroke-width="0.15" textLength="13.51" lengthAdjust="spacingAndGlyphs">600</text>
<line x1="120.4" y1="264.5" x2="123.4" y2="264.5" stroke="#1e1e1e" stroke-width="1.1"/>
<text x="117.0" y="267.5" font-size="9.0" text-anchor="end" fill="#333333" stroke="#333333" stroke-width="0.15" textLength="13.51" lengthAdjust="spacingAndGlyphs">500</text>
<line x1="120.4" y1="282.5" x2="123.4" y2="282.5" stroke="#1e1e1e" stroke-width="1.1"/>
<text x="117.0" y="285.0" font-size="9.0" text-anchor="end" fill="#333333" stroke="#333333" stroke-width="0.15" textLength="13.51" lengthAdjust="spacingAndGlyphs">400</text>
<line x1="120.4" y1="299.5" x2="123.4" y2="299.5" stroke="#1e1e1e" stroke-width="1.1"/>
<text x="117.0" y="302.5" font-size="9.0" text-anchor="end" fill="#333333" stroke="#333333" stroke-width="0.15" textLength="13.51" lengthAdjust="spacingAndGlyphs">300</text>
<line x1="120.4" y1="317.5" x2="123.4" y2="317.5" stroke="#1e1e1e" stroke-width="1.1"/>
<text x="117.0" y="320.0" font-size="9.0" text-anchor="end" fill="#333333" stroke="#333333" stroke-width="0.15" textLength="13.51" lengthAdjust="spacingAndGlyphs">200</text>
<line x1="120.4" y1="334.5" x2="123.4" y2="334.5" stroke="#1e1e1e" stroke-width="1.1"/>
<text x="117.0" y="337.5" font-size="9.0" text-anchor="end" fill="#333333" stroke="#333333" stroke-width="0.15" textLength="13.51" lengthAdjust="spacingAndGlyphs">100</text>
<line x1="120.4" y1="352.5" x2="123.4" y2="352.5" stroke="#1e1e1e" stroke-width="1.1"/>
<text x="117.0" y="355.0" font-size="9.0" text-anchor="end" fill="#333333" stroke="#333333" stroke-width="0.15" textLength="4.5" lengthAdjust="spacingAndGlyphs">0</text>
<line x1="123.4" y1="352.5" x2="165" y2="352.5" stroke="#1e1e1e" stroke-width="1.1"/>
<rect x="126.3" y="288.425" width="10.60" height="63.88" fill="#36a33a"/>
<rect x="139.1" y="303.82500000000005" width="10.40" height="48.47" fill="#f78b05"/>
<rect x="151.9" y="330.075" width="10.10" height="22.23" fill="#3ba4e0"/>
<line x1="131.5" y1="280.7" x2="131.5" y2="288.425" stroke="#1e1e1e" stroke-width="0.9"/>
<line x1="128.9" y1="280.5" x2="134.1" y2="280.5" stroke="#1e1e1e" stroke-width="0.9"/>
<line x1="144.5" y1="291.6" x2="144.5" y2="303.82500000000005" stroke="#1e1e1e" stroke-width="0.9"/>
<line x1="141.70000000000002" y1="291.5" x2="146.9" y2="291.5" stroke="#1e1e1e" stroke-width="0.9"/>
<line x1="157.5" y1="325.3" x2="157.5" y2="330.075" stroke="#1e1e1e" stroke-width="0.9"/>
<line x1="154.4" y1="325.5" x2="159.6" y2="325.5" stroke="#1e1e1e" stroke-width="0.9"/>
<line x1="131.5" y1="352.3" x2="131.5" y2="355.5" stroke="#1e1e1e" stroke-width="1.0"/>
<line x1="144.5" y1="352.3" x2="144.5" y2="355.5" stroke="#1e1e1e" stroke-width="1.0"/>
<line x1="156.5" y1="352.3" x2="156.5" y2="355.5" stroke="#1e1e1e" stroke-width="1.0"/>
<circle cx="131.4" cy="268.5" r="1.65" fill="#fff" stroke="#444444" stroke-width="0.8"/>
<circle cx="131.4" cy="277.0" r="1.65" fill="#fff" stroke="#444444" stroke-width="0.8"/>
<circle cx="131.4" cy="286.7" r="1.65" fill="#fff" stroke="#444444" stroke-width="0.8"/>
<circle cx="131.4" cy="296.8" r="1.65" fill="#fff" stroke="#444444" stroke-width="0.8"/>
<circle cx="131.6" cy="310.6" r="1.65" fill="#fff" stroke="#444444" stroke-width="0.8"/>
<circle cx="144.3" cy="260.2" r="1.65" fill="#fff" stroke="#444444" stroke-width="0.8"/>
<circle cx="144.2" cy="305.1" r="1.65" fill="#fff" stroke="#444444" stroke-width="0.8"/>
<circle cx="139.9" cy="314.4" r="1.65" fill="#fff" stroke="#444444" stroke-width="0.8"/>
<circle cx="148.1" cy="314.9" r="1.65" fill="#fff" stroke="#444444" stroke-width="0.8"/>
<circle cx="144.2" cy="321.4" r="1.65" fill="#fff" stroke="#444444" stroke-width="0.8"/>
<circle cx="152.8" cy="322.2" r="1.65" fill="#fff" stroke="#444444" stroke-width="0.8"/>
<circle cx="157.0" cy="318.3" r="1.65" fill="#fff" stroke="#444444" stroke-width="0.8"/>
<circle cx="161.2" cy="323.0" r="1.65" fill="#fff" stroke="#444444" stroke-width="0.8"/>
<circle cx="157.0" cy="331.5" r="1.65" fill="#fff" stroke="#444444" stroke-width="0.8"/>
<circle cx="157.0" cy="339.3" r="1.65" fill="#fff" stroke="#444444" stroke-width="0.8"/>
<circle cx="157.0" cy="345.0" r="1.65" fill="#fff" stroke="#444444" stroke-width="0.8"/>
<line x1="144.2" y1="250.5" x2="161.2" y2="250.5" stroke="#1e1e1e" stroke-width="0.9"/>
<circle cx="152.50" cy="247.47" r="1.15" fill="#333333"/>
<text x="134.5" y="363.3" font-size="9.4" text-anchor="end" fill="#333333" stroke="#333333" stroke-width="0.15" textLength="20.9" lengthAdjust="spacingAndGlyphs" transform="rotate(-45 134.5 363.3)">Saline</text>
<text x="147.79999999999998" y="362.5" font-size="9.4" text-anchor="end" fill="#333333" stroke="#333333" stroke-width="0.15" textLength="8.35" lengthAdjust="spacingAndGlyphs" transform="rotate(-45 147.79999999999998 362.5)">Fc</text>
<text x="159.8" y="362.6" font-size="9.4" text-anchor="end" fill="#333333" stroke="#333333" stroke-width="0.15" textLength="18.81" lengthAdjust="spacingAndGlyphs" transform="rotate(-45 159.8 362.6)">FGL1</text>
<text transform="translate(98.6 298.0) rotate(-90)" font-size="10" text-anchor="middle" fill="#333" stroke="#333" stroke-width="0.15" textLength="75" lengthAdjust="spacingAndGlyphs">Concentration (ng/ml)</text>
<text x="177.8" y="218.2" font-size="12.1" font-weight="bold" fill="#111" stroke="#111" stroke-width="0.45">F</text>
<text x="227.2" y="232.5" font-size="10.5" text-anchor="middle" fill="#333333" stroke="#333333" stroke-width="0.15" font-style="italic" textLength="12.5" lengthAdjust="spacingAndGlyphs">Id1</text>
<line x1="206.5" y1="244.5" x2="206.5" y2="352.2" stroke="#1e1e1e" stroke-width="1.1"/>
<line x1="203.0" y1="247.5" x2="206.0" y2="247.5" stroke="#1e1e1e" stroke-width="1.1"/>
<text x="199.6" y="249.7" font-size="9.0" text-anchor="end" fill="#333333" stroke="#333333" stroke-width="0.15" textLength="9.24" lengthAdjust="spacingAndGlyphs">−1</text>
<line x1="203.0" y1="262.5" x2="206.0" y2="262.5" stroke="#1e1e1e" stroke-width="1.1"/>
<text x="199.6" y="264.72999999999996" font-size="9.0" text-anchor="end" fill="#333333" stroke="#333333" stroke-width="0.15" textLength="9.24" lengthAdjust="spacingAndGlyphs">−2</text>
<line x1="203.0" y1="277.5" x2="206.0" y2="277.5" stroke="#1e1e1e" stroke-width="1.1"/>
<text x="199.6" y="279.76" font-size="9.0" text-anchor="end" fill="#333333" stroke="#333333" stroke-width="0.15" textLength="9.24" lengthAdjust="spacingAndGlyphs">−3</text>
<line x1="203.0" y1="292.5" x2="206.0" y2="292.5" stroke="#1e1e1e" stroke-width="1.1"/>
<text x="199.6" y="294.78999999999996" font-size="9.0" text-anchor="end" fill="#333333" stroke="#333333" stroke-width="0.15" textLength="9.24" lengthAdjust="spacingAndGlyphs">−4</text>
<line x1="203.0" y1="307.5" x2="206.0" y2="307.5" stroke="#1e1e1e" stroke-width="1.1"/>
<text x="199.6" y="309.82" font-size="9.0" text-anchor="end" fill="#333333" stroke="#333333" stroke-width="0.15" textLength="9.24" lengthAdjust="spacingAndGlyphs">−5</text>
<line x1="203.0" y1="322.5" x2="206.0" y2="322.5" stroke="#1e1e1e" stroke-width="1.1"/>
<text x="199.6" y="324.84999999999997" font-size="9.0" text-anchor="end" fill="#333333" stroke="#333333" stroke-width="0.15" textLength="9.24" lengthAdjust="spacingAndGlyphs">−6</text>
<line x1="203.0" y1="337.5" x2="206.0" y2="337.5" stroke="#1e1e1e" stroke-width="1.1"/>
<text x="199.6" y="339.88" font-size="9.0" text-anchor="end" fill="#333333" stroke="#333333" stroke-width="0.15" textLength="9.24" lengthAdjust="spacingAndGlyphs">−7</text>
<line x1="203.0" y1="352.5" x2="206.0" y2="352.5" stroke="#1e1e1e" stroke-width="1.1"/>
<text x="199.6" y="354.90999999999997" font-size="9.0" text-anchor="end" fill="#333333" stroke="#333333" stroke-width="0.15" textLength="9.24" lengthAdjust="spacingAndGlyphs">−8</text>
<line x1="206.0" y1="352.5" x2="248" y2="352.5" stroke="#1e1e1e" stroke-width="1.1"/>
<rect x="208.7" y="283.8235" width="10.80" height="68.38" fill="#36a33a"/>
<rect x="221.6" y="291.3385" width="10.60" height="60.86" fill="#f78b05"/>
<rect x="234.4" y="291.3385" width="10.40" height="60.86" fill="#3ba4e0"/>
<line x1="214.5" y1="282.3" x2="214.5" y2="283.8235" stroke="#1e1e1e" stroke-width="0.9"/>
<line x1="211.6" y1="282.5" x2="216.79999999999998" y2="282.5" stroke="#1e1e1e" stroke-width="0.9"/>
<line x1="227.5" y1="287.0" x2="227.5" y2="291.3385" stroke="#1e1e1e" stroke-width="0.9"/>
<line x1="224.4" y1="287.5" x2="229.6" y2="287.5" stroke="#1e1e1e" stroke-width="0.9"/>
<line x1="239.5" y1="286.7" x2="239.5" y2="291.3385" stroke="#1e1e1e" stroke-width="0.9"/>
<line x1="236.9" y1="286.5" x2="242.1" y2="286.5" stroke="#1e1e1e" stroke-width="0.9"/>
<line x1="214.5" y1="352.2" x2="214.5" y2="355.4" stroke="#1e1e1e" stroke-width="1.0"/>
<line x1="227.5" y1="352.2" x2="227.5" y2="355.4" stroke="#1e1e1e" stroke-width="1.0"/>
<line x1="239.5" y1="352.2" x2="239.5" y2="355.4" stroke="#1e1e1e" stroke-width="1.0"/>
<circle cx="214.2" cy="273.9" r="1.65" fill="#fff" stroke="#444444" stroke-width="0.8"/>
<circle cx="209.9" cy="285.0" r="1.65" fill="#fff" stroke="#444444" stroke-width="0.8"/>
<circle cx="214.2" cy="285.8" r="1.65" fill="#fff" stroke="#444444" stroke-width="0.8"/>
<circle cx="218.1" cy="286.7" r="1.65" fill="#fff" stroke="#444444" stroke-width="0.8"/>
<circle cx="214.2" cy="289.5" r="1.65" fill="#fff" stroke="#444444" stroke-width="0.8"/>
<circle cx="214.2" cy="294.4" r="1.65" fill="#fff" stroke="#444444" stroke-width="0.8"/>
<circle cx="222.3" cy="282.0" r="1.65" fill="#fff" stroke="#444444" stroke-width="0.8"/>
<circle cx="226.7" cy="291.2" r="1.65" fill="#fff" stroke="#444444" stroke-width="0.8"/>
<circle cx="226.7" cy="295.8" r="1.65" fill="#fff" stroke="#444444" stroke-width="0.8"/>
<circle cx="226.9" cy="300.9" r="1.65" fill="#fff" stroke="#444444" stroke-width="0.8"/>
<circle cx="230.9" cy="282.8" r="1.65" fill="#fff" stroke="#444444" stroke-width="0.8"/>
<circle cx="234.8" cy="282.8" r="1.65" fill="#fff" stroke="#444444" stroke-width="0.8"/>
<circle cx="238.7" cy="283.5" r="1.65" fill="#fff" stroke="#444444" stroke-width="0.8"/>
<circle cx="243.3" cy="282.0" r="1.65" fill="#fff" stroke="#444444" stroke-width="0.8"/>
<circle cx="239.4" cy="290.5" r="1.65" fill="#fff" stroke="#444444" stroke-width="0.8"/>
<circle cx="239.4" cy="296.0" r="1.65" fill="#fff" stroke="#444444" stroke-width="0.8"/>
<circle cx="239.5" cy="305.9" r="1.65" fill="#fff" stroke="#444444" stroke-width="0.8"/>
<text x="217.0" y="363.2" font-size="9.4" text-anchor="end" fill="#333333" stroke="#333333" stroke-width="0.15" textLength="20.9" lengthAdjust="spacingAndGlyphs" transform="rotate(-45 217.0 363.2)">Saline</text>
<text x="230.6" y="362.4" font-size="9.4" text-anchor="end" fill="#333333" stroke="#333333" stroke-width="0.15" textLength="8.35" lengthAdjust="spacingAndGlyphs" transform="rotate(-45 230.6 362.4)">Fc</text>
<text x="242.5" y="362.5" font-size="9.4" text-anchor="end" fill="#333333" stroke="#333333" stroke-width="0.15" textLength="18.81" lengthAdjust="spacingAndGlyphs" transform="rotate(-45 242.5 362.5)">FGL1</text>
<text transform="translate(186.2 298.0) rotate(-90)" font-size="9.8" text-anchor="middle" fill="#333" stroke="#333" stroke-width="0.15" textLength="16" lengthAdjust="spacingAndGlyphs">-ΔCt</text>
<text x="260.0" y="218.2" font-size="12.1" font-weight="bold" fill="#111" stroke="#111" stroke-width="0.45">G</text>
<text x="310.2" y="232.7" font-size="10.5" text-anchor="middle" fill="#333333" stroke="#333333" stroke-width="0.15" font-style="italic" textLength="29.5" lengthAdjust="spacingAndGlyphs">Smad7</text>
<line x1="289.5" y1="244.5" x2="289.5" y2="352.2" stroke="#1e1e1e" stroke-width="1.1"/>
<line x1="286.0" y1="246.5" x2="289.0" y2="246.5" stroke="#1e1e1e" stroke-width="1.1"/>
<text x="282.6" y="249.6" font-size="9.0" text-anchor="end" fill="#333333" stroke="#333333" stroke-width="0.15" textLength="9.24" lengthAdjust="spacingAndGlyphs">−1</text>
<line x1="286.0" y1="262.5" x2="289.0" y2="262.5" stroke="#1e1e1e" stroke-width="1.1"/>
<text x="282.6" y="264.7" font-size="9.0" text-anchor="end" fill="#333333" stroke="#333333" stroke-width="0.15" textLength="9.24" lengthAdjust="spacingAndGlyphs">−2</text>
<line x1="286.0" y1="277.5" x2="289.0" y2="277.5" stroke="#1e1e1e" stroke-width="1.1"/>
<text x="282.6" y="279.8" font-size="9.0" text-anchor="end" fill="#333333" stroke="#333333" stroke-width="0.15" textLength="9.24" lengthAdjust="spacingAndGlyphs">−3</text>
<line x1="286.0" y1="292.5" x2="289.0" y2="292.5" stroke="#1e1e1e" stroke-width="1.1"/>
<text x="282.6" y="294.9" font-size="9.0" text-anchor="end" fill="#333333" stroke="#333333" stroke-width="0.15" textLength="9.24" lengthAdjust="spacingAndGlyphs">−4</text>
<line x1="286.0" y1="307.5" x2="289.0" y2="307.5" stroke="#1e1e1e" stroke-width="1.1"/>
<text x="282.6" y="310.0" font-size="9.0" text-anchor="end" fill="#333333" stroke="#333333" stroke-width="0.15" textLength="9.24" lengthAdjust="spacingAndGlyphs">−5</text>
<line x1="286.0" y1="322.5" x2="289.0" y2="322.5" stroke="#1e1e1e" stroke-width="1.1"/>
<text x="282.6" y="325.09999999999997" font-size="9.0" text-anchor="end" fill="#333333" stroke="#333333" stroke-width="0.15" textLength="9.24" lengthAdjust="spacingAndGlyphs">−6</text>
<line x1="286.0" y1="337.5" x2="289.0" y2="337.5" stroke="#1e1e1e" stroke-width="1.1"/>
<text x="282.6" y="340.2" font-size="9.0" text-anchor="end" fill="#333333" stroke="#333333" stroke-width="0.15" textLength="9.24" lengthAdjust="spacingAndGlyphs">−7</text>
<line x1="286.0" y1="352.5" x2="289.0" y2="352.5" stroke="#1e1e1e" stroke-width="1.1"/>
<text x="282.6" y="355.3" font-size="9.0" text-anchor="end" fill="#333333" stroke="#333333" stroke-width="0.15" textLength="9.24" lengthAdjust="spacingAndGlyphs">−8</text>
<line x1="289.0" y1="352.5" x2="331" y2="352.5" stroke="#1e1e1e" stroke-width="1.1"/>
<rect x="291.4" y="287.972" width="10.60" height="64.23" fill="#36a33a"/>
<rect x="304.3" y="289.48199999999997" width="10.50" height="62.72" fill="#f78b05"/>
<rect x="317.1" y="295.22" width="10.20" height="56.98" fill="#3ba4e0"/>
<line x1="296.5" y1="285.1" x2="296.5" y2="287.972" stroke="#1e1e1e" stroke-width="0.9"/>
<line x1="294.2" y1="285.5" x2="299.40000000000003" y2="285.5" stroke="#1e1e1e" stroke-width="0.9"/>
<line x1="309.5" y1="288.5" x2="309.5" y2="289.48199999999997" stroke="#1e1e1e" stroke-width="0.9"/>
<line x1="307.09999999999997" y1="288.5" x2="312.3" y2="288.5" stroke="#1e1e1e" stroke-width="0.9"/>
<line x1="322.5" y1="291.3" x2="322.5" y2="295.22" stroke="#1e1e1e" stroke-width="0.9"/>
<line x1="319.4" y1="291.5" x2="324.6" y2="291.5" stroke="#1e1e1e" stroke-width="0.9"/>
<line x1="296.5" y1="352.2" x2="296.5" y2="355.4" stroke="#1e1e1e" stroke-width="1.0"/>
<line x1="309.5" y1="352.2" x2="309.5" y2="355.4" stroke="#1e1e1e" stroke-width="1.0"/>
<line x1="322.5" y1="352.2" x2="322.5" y2="355.4" stroke="#1e1e1e" stroke-width="1.0"/>
<circle cx="296.9" cy="275.8" r="1.65" fill="#fff" stroke="#444444" stroke-width="0.8"/>
<circle cx="292.7" cy="288.5" r="1.65" fill="#fff" stroke="#444444" stroke-width="0.8"/>
<circle cx="296.9" cy="290.1" r="1.65" fill="#fff" stroke="#444444" stroke-width="0.8"/>
<circle cx="300.8" cy="290.9" r="1.65" fill="#fff" stroke="#444444" stroke-width="0.8"/>
<circle cx="296.9" cy="294.8" r="1.65" fill="#fff" stroke="#444444" stroke-width="0.8"/>
<circle cx="310.1" cy="284.7" r="1.65" fill="#fff" stroke="#444444" stroke-width="0.8"/>
<circle cx="305.9" cy="290.4" r="1.65" fill="#fff" stroke="#444444" stroke-width="0.8"/>
<circle cx="309.8" cy="290.9" r="1.65" fill="#fff" stroke="#444444" stroke-width="0.8"/>
<circle cx="313.7" cy="290.9" r="1.65" fill="#fff" stroke="#444444" stroke-width="0.8"/>
<circle cx="305.9" cy="294.5" r="1.65" fill="#fff" stroke="#444444" stroke-width="0.8"/>
<circle cx="322.1" cy="281.8" r="1.65" fill="#fff" stroke="#444444" stroke-width="0.8"/>
<circle cx="322.1" cy="285.9" r="1.65" fill="#fff" stroke="#444444" stroke-width="0.8"/>
<circle cx="317.8" cy="293.5" r="1.65" fill="#fff" stroke="#444444" stroke-width="0.8"/>
<circle cx="326.4" cy="293.5" r="1.65" fill="#fff" stroke="#444444" stroke-width="0.8"/>
<circle cx="322.1" cy="301.8" r="1.65" fill="#fff" stroke="#444444" stroke-width="0.8"/>
<circle cx="322.1" cy="318.4" r="1.65" fill="#fff" stroke="#444444" stroke-width="0.8"/>
<text x="299.7" y="363.2" font-size="9.4" text-anchor="end" fill="#333333" stroke="#333333" stroke-width="0.15" textLength="20.9" lengthAdjust="spacingAndGlyphs" transform="rotate(-45 299.7 363.2)">Saline</text>
<text x="313.3" y="362.4" font-size="9.4" text-anchor="end" fill="#333333" stroke="#333333" stroke-width="0.15" textLength="8.35" lengthAdjust="spacingAndGlyphs" transform="rotate(-45 313.3 362.4)">Fc</text>
<text x="325.0" y="362.5" font-size="9.4" text-anchor="end" fill="#333333" stroke="#333333" stroke-width="0.15" textLength="18.81" lengthAdjust="spacingAndGlyphs" transform="rotate(-45 325.0 362.5)">FGL1</text>
<text transform="translate(269.2 298.3) rotate(-90)" font-size="9.8" text-anchor="middle" fill="#333" stroke="#333" stroke-width="0.15" textLength="16.5" lengthAdjust="spacingAndGlyphs">-ΔCt</text>
<text x="343.6" y="218.2" font-size="12.1" font-weight="bold" fill="#111" stroke="#111" stroke-width="0.45">H</text>
<text x="393.0" y="226.6" font-size="10.5" text-anchor="middle" fill="#333333" stroke="#333333" stroke-width="0.15" font-style="italic" textLength="27.0" lengthAdjust="spacingAndGlyphs">Serum</text>
<text x="393.0" y="238.0" font-size="10.5" text-anchor="middle" fill="#333333" stroke="#333333" stroke-width="0.15" font-style="italic" textLength="15.5" lengthAdjust="spacingAndGlyphs">iron</text>
<line x1="372.5" y1="244.5" x2="372.5" y2="352.6" stroke="#1e1e1e" stroke-width="1.1"/>
<line x1="369.0" y1="246.5" x2="372.0" y2="246.5" stroke="#1e1e1e" stroke-width="1.1"/>
<text x="365.6" y="249.5" font-size="9.0" text-anchor="end" fill="#333333" stroke="#333333" stroke-width="0.15" textLength="9.01" lengthAdjust="spacingAndGlyphs">50</text>
<line x1="369.0" y1="267.5" x2="372.0" y2="267.5" stroke="#1e1e1e" stroke-width="1.1"/>
<text x="365.6" y="270.66" font-size="9.0" text-anchor="end" fill="#333333" stroke="#333333" stroke-width="0.15" textLength="9.01" lengthAdjust="spacingAndGlyphs">40</text>
<line x1="369.0" y1="289.5" x2="372.0" y2="289.5" stroke="#1e1e1e" stroke-width="1.1"/>
<text x="365.6" y="291.82" font-size="9.0" text-anchor="end" fill="#333333" stroke="#333333" stroke-width="0.15" textLength="9.01" lengthAdjust="spacingAndGlyphs">30</text>
<line x1="369.0" y1="310.5" x2="372.0" y2="310.5" stroke="#1e1e1e" stroke-width="1.1"/>
<text x="365.6" y="312.98" font-size="9.0" text-anchor="end" fill="#333333" stroke="#333333" stroke-width="0.15" textLength="9.01" lengthAdjust="spacingAndGlyphs">20</text>
<line x1="369.0" y1="331.5" x2="372.0" y2="331.5" stroke="#1e1e1e" stroke-width="1.1"/>
<text x="365.6" y="334.14" font-size="9.0" text-anchor="end" fill="#333333" stroke="#333333" stroke-width="0.15" textLength="9.01" lengthAdjust="spacingAndGlyphs">10</text>
<line x1="369.0" y1="352.5" x2="372.0" y2="352.5" stroke="#1e1e1e" stroke-width="1.1"/>
<text x="365.6" y="355.3" font-size="9.0" text-anchor="end" fill="#333333" stroke="#333333" stroke-width="0.15" textLength="4.5" lengthAdjust="spacingAndGlyphs">0</text>
<line x1="372.0" y1="352.5" x2="414.5" y2="352.5" stroke="#1e1e1e" stroke-width="1.1"/>
<rect x="374.8" y="299.9116" width="10.50" height="52.69" fill="#36a33a"/>
<rect x="387.2" y="304.77840000000003" width="10.90" height="47.82" fill="#f78b05"/>
<rect x="400.1" y="279.80960000000005" width="10.90" height="72.79" fill="#3ba4e0"/>
<line x1="379.5" y1="293.7" x2="379.5" y2="299.9116" stroke="#1e1e1e" stroke-width="0.9"/>
<line x1="377.29999999999995" y1="293.5" x2="382.5" y2="293.5" stroke="#1e1e1e" stroke-width="0.9"/>
<line x1="392.5" y1="301.0" x2="392.5" y2="304.77840000000003" stroke="#1e1e1e" stroke-width="0.9"/>
<line x1="390.09999999999997" y1="301.5" x2="395.3" y2="301.5" stroke="#1e1e1e" stroke-width="0.9"/>
<line x1="405.5" y1="271.1" x2="405.5" y2="279.80960000000005" stroke="#1e1e1e" stroke-width="0.9"/>
<line x1="402.9" y1="271.5" x2="408.1" y2="271.5" stroke="#1e1e1e" stroke-width="0.9"/>
<line x1="380.5" y1="352.6" x2="380.5" y2="355.8" stroke="#1e1e1e" stroke-width="1.0"/>
<line x1="392.5" y1="352.6" x2="392.5" y2="355.8" stroke="#1e1e1e" stroke-width="1.0"/>
<line x1="405.5" y1="352.6" x2="405.5" y2="355.8" stroke="#1e1e1e" stroke-width="1.0"/>
<circle cx="376.0" cy="287.4" r="1.65" fill="#fff" stroke="#444444" stroke-width="0.8"/>
<circle cx="384.5" cy="287.9" r="1.65" fill="#fff" stroke="#444444" stroke-width="0.8"/>
<circle cx="379.9" cy="294.4" r="1.65" fill="#fff" stroke="#444444" stroke-width="0.8"/>
<circle cx="379.9" cy="310.6" r="1.65" fill="#fff" stroke="#444444" stroke-width="0.8"/>
<circle cx="379.9" cy="315.2" r="1.65" fill="#fff" stroke="#444444" stroke-width="0.8"/>
<circle cx="388.8" cy="302.5" r="1.65" fill="#fff" stroke="#444444" stroke-width="0.8"/>
<circle cx="392.7" cy="301.5" r="1.65" fill="#fff" stroke="#444444" stroke-width="0.8"/>
<circle cx="396.9" cy="304.8" r="1.65" fill="#fff" stroke="#444444" stroke-width="0.8"/>
<circle cx="392.7" cy="304.0" r="1.65" fill="#fff" stroke="#444444" stroke-width="0.8"/>
<circle cx="392.7" cy="310.1" r="1.65" fill="#fff" stroke="#444444" stroke-width="0.8"/>
<circle cx="401.3" cy="264.6" r="1.65" fill="#fff" stroke="#444444" stroke-width="0.8"/>
<circle cx="409.7" cy="264.1" r="1.65" fill="#fff" stroke="#444444" stroke-width="0.8"/>
<circle cx="405.5" cy="268.8" r="1.65" fill="#fff" stroke="#444444" stroke-width="0.8"/>
<circle cx="405.5" cy="271.9" r="1.65" fill="#fff" stroke="#444444" stroke-width="0.8"/>
<circle cx="405.4" cy="302.5" r="1.65" fill="#fff" stroke="#444444" stroke-width="0.8"/>
<circle cx="405.4" cy="308.5" r="1.65" fill="#fff" stroke="#444444" stroke-width="0.8"/>
<line x1="390.0" y1="258.5" x2="406.0" y2="258.5" stroke="#1e1e1e" stroke-width="0.9"/>
<circle cx="397.80" cy="255.27" r="1.15" fill="#333333"/>
<text x="382.9" y="363.6" font-size="9.4" text-anchor="end" fill="#333333" stroke="#333333" stroke-width="0.15" textLength="20.9" lengthAdjust="spacingAndGlyphs" transform="rotate(-45 382.9 363.6)">Saline</text>
<text x="396.3" y="362.8" font-size="9.4" text-anchor="end" fill="#333333" stroke="#333333" stroke-width="0.15" textLength="8.35" lengthAdjust="spacingAndGlyphs" transform="rotate(-45 396.3 362.8)">Fc</text>
<text x="408.5" y="362.90000000000003" font-size="9.4" text-anchor="end" fill="#333333" stroke="#333333" stroke-width="0.15" textLength="18.81" lengthAdjust="spacingAndGlyphs" transform="rotate(-45 408.5 362.90000000000003)">FGL1</text>
<text transform="translate(351.0 298.6) rotate(-90)" font-size="10.4" text-anchor="middle" fill="#333" stroke="#333" stroke-width="0.15" textLength="12.5" lengthAdjust="spacingAndGlyphs">μM</text>
<text x="425.8" y="218.2" font-size="12.1" font-weight="bold" fill="#111" stroke="#111" stroke-width="0.45">I</text>
<text x="493.0" y="226.6" font-size="10.5" text-anchor="middle" fill="#333333" stroke="#333333" stroke-width="0.15" font-style="italic" textLength="40.0" lengthAdjust="spacingAndGlyphs">Liver iron</text>
<text x="493.0" y="238.6" font-size="10.5" text-anchor="middle" fill="#333333" stroke="#333333" stroke-width="0.15" font-style="italic" textLength="33.2" lengthAdjust="spacingAndGlyphs">content</text>
<line x1="471.5" y1="244.5" x2="471.5" y2="352.8" stroke="#1e1e1e" stroke-width="1.1"/>
<line x1="468.6" y1="247.5" x2="471.6" y2="247.5" stroke="#1e1e1e" stroke-width="1.1"/>
<text x="465.20000000000005" y="249.7" font-size="9.0" text-anchor="end" fill="#333333" stroke="#333333" stroke-width="0.15" textLength="13.51" lengthAdjust="spacingAndGlyphs">100</text>
<line x1="468.6" y1="268.5" x2="471.6" y2="268.5" stroke="#1e1e1e" stroke-width="1.1"/>
<text x="465.20000000000005" y="270.86" font-size="9.0" text-anchor="end" fill="#333333" stroke="#333333" stroke-width="0.15" textLength="9.01" lengthAdjust="spacingAndGlyphs">80</text>
<line x1="468.6" y1="289.5" x2="471.6" y2="289.5" stroke="#1e1e1e" stroke-width="1.1"/>
<text x="465.20000000000005" y="292.02" font-size="9.0" text-anchor="end" fill="#333333" stroke="#333333" stroke-width="0.15" textLength="9.01" lengthAdjust="spacingAndGlyphs">60</text>
<line x1="468.6" y1="310.5" x2="471.6" y2="310.5" stroke="#1e1e1e" stroke-width="1.1"/>
<text x="465.20000000000005" y="313.18" font-size="9.0" text-anchor="end" fill="#333333" stroke="#333333" stroke-width="0.15" textLength="9.01" lengthAdjust="spacingAndGlyphs">40</text>
<line x1="468.6" y1="331.5" x2="471.6" y2="331.5" stroke="#1e1e1e" stroke-width="1.1"/>
<text x="465.20000000000005" y="334.34" font-size="9.0" text-anchor="end" fill="#333333" stroke="#333333" stroke-width="0.15" textLength="9.01" lengthAdjust="spacingAndGlyphs">20</text>
<line x1="468.6" y1="352.5" x2="471.6" y2="352.5" stroke="#1e1e1e" stroke-width="1.1"/>
<text x="465.20000000000005" y="355.5" font-size="9.0" text-anchor="end" fill="#333333" stroke="#333333" stroke-width="0.15" textLength="4.5" lengthAdjust="spacingAndGlyphs">0</text>
<line x1="471.6" y1="352.5" x2="514" y2="352.5" stroke="#1e1e1e" stroke-width="1.1"/>
<rect x="474.3" y="277.682" width="10.90" height="75.12" fill="#36a33a"/>
<rect x="487.2" y="267.3136" width="10.90" height="85.49" fill="#f78b05"/>
<rect x="500.1" y="279.798" width="10.40" height="73.00" fill="#3ba4e0"/>
<line x1="479.5" y1="274.8" x2="479.5" y2="277.682" stroke="#1e1e1e" stroke-width="0.9"/>
<line x1="477.2" y1="274.5" x2="482.40000000000003" y2="274.5" stroke="#1e1e1e" stroke-width="0.9"/>
<line x1="492.5" y1="264.1" x2="492.5" y2="267.3136" stroke="#1e1e1e" stroke-width="0.9"/>
<line x1="490.0" y1="264.5" x2="495.20000000000005" y2="264.5" stroke="#1e1e1e" stroke-width="0.9"/>
<line x1="505.5" y1="277.0" x2="505.5" y2="279.798" stroke="#1e1e1e" stroke-width="0.9"/>
<line x1="502.7" y1="277.5" x2="507.90000000000003" y2="277.5" stroke="#1e1e1e" stroke-width="0.9"/>
<line x1="479.5" y1="352.8" x2="479.5" y2="356.0" stroke="#1e1e1e" stroke-width="1.0"/>
<line x1="492.5" y1="352.8" x2="492.5" y2="356.0" stroke="#1e1e1e" stroke-width="1.0"/>
<line x1="505.5" y1="352.8" x2="505.5" y2="356.0" stroke="#1e1e1e" stroke-width="1.0"/>
<circle cx="479.9" cy="274.2" r="1.65" fill="#fff" stroke="#444444" stroke-width="0.8"/>
<circle cx="475.6" cy="277.8" r="1.65" fill="#fff" stroke="#444444" stroke-width="0.8"/>
<circle cx="479.9" cy="277.6" r="1.65" fill="#fff" stroke="#444444" stroke-width="0.8"/>
<circle cx="484.1" cy="278.1" r="1.65" fill="#fff" stroke="#444444" stroke-width="0.8"/>
<circle cx="479.9" cy="286.3" r="1.65" fill="#fff" stroke="#444444" stroke-width="0.8"/>
<circle cx="492.3" cy="259.9" r="1.65" fill="#fff" stroke="#444444" stroke-width="0.8"/>
<circle cx="492.3" cy="264.9" r="1.65" fill="#fff" stroke="#444444" stroke-width="0.8"/>
<circle cx="488.0" cy="268.8" r="1.65" fill="#fff" stroke="#444444" stroke-width="0.8"/>
<circle cx="496.5" cy="270.8" r="1.65" fill="#fff" stroke="#444444" stroke-width="0.8"/>
<circle cx="492.3" cy="274.2" r="1.65" fill="#fff" stroke="#444444" stroke-width="0.8"/>
<circle cx="492.3" cy="269.5" r="1.65" fill="#fff" stroke="#444444" stroke-width="0.8"/>
<circle cx="504.8" cy="268.0" r="1.65" fill="#fff" stroke="#444444" stroke-width="0.8"/>
<circle cx="504.8" cy="276.9" r="1.65" fill="#fff" stroke="#444444" stroke-width="0.8"/>
<circle cx="501.2" cy="283.5" r="1.65" fill="#fff" stroke="#444444" stroke-width="0.8"/>
<circle cx="505.1" cy="281.2" r="1.65" fill="#fff" stroke="#444444" stroke-width="0.8"/>
<circle cx="509.0" cy="282.0" r="1.65" fill="#fff" stroke="#444444" stroke-width="0.8"/>
<circle cx="504.8" cy="284.0" r="1.65" fill="#fff" stroke="#444444" stroke-width="0.8"/>
<line x1="492.3" y1="255.5" x2="509.5" y2="255.5" stroke="#1e1e1e" stroke-width="0.9"/>
<circle cx="500.70" cy="252.47" r="1.15" fill="#333333"/>
<text x="482.7" y="363.8" font-size="9.4" text-anchor="end" fill="#333333" stroke="#333333" stroke-width="0.15" textLength="20.9" lengthAdjust="spacingAndGlyphs" transform="rotate(-45 482.7 363.8)">Saline</text>
<text x="496.20000000000005" y="363.0" font-size="9.4" text-anchor="end" fill="#333333" stroke="#333333" stroke-width="0.15" textLength="8.35" lengthAdjust="spacingAndGlyphs" transform="rotate(-45 496.20000000000005 363.0)">Fc</text>
<text x="508.3" y="363.1" font-size="9.4" text-anchor="end" fill="#333333" stroke="#333333" stroke-width="0.15" textLength="18.81" lengthAdjust="spacingAndGlyphs" transform="rotate(-45 508.3 363.1)">FGL1</text>
<text transform="translate(436.4 296.0) rotate(-90)" font-size="10.2" text-anchor="middle" fill="#333" stroke="#333" stroke-width="0.15" textLength="76" lengthAdjust="spacingAndGlyphs">Non-heme liver iron (μg)</text>
<text transform="translate(448.0 295.3) rotate(-90)" font-size="10.2" text-anchor="middle" fill="#333" stroke="#333" stroke-width="0.15" textLength="39" lengthAdjust="spacingAndGlyphs">/ g of liver wet</text>
<rect x="0.5" y="0.5" width="519" height="385" fill="none" stroke="#575757" stroke-width="1"/>
</svg>
</body></html>
